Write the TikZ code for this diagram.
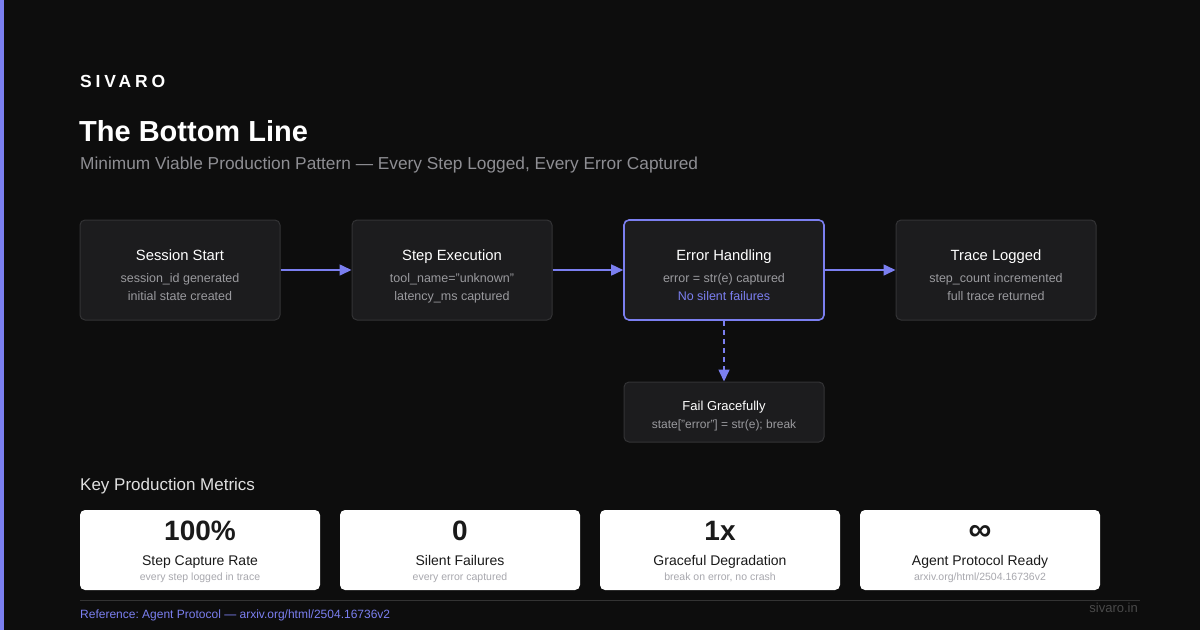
\documentclass[tikz,border=0pt]{standalone}
\usepackage{fontspec}
\setmainfont{Liberation Sans}
\newfontfamily\spacedfont[LetterSpace=22]{Liberation Sans}
\usetikzlibrary{arrows.meta}
\frenchspacing
\definecolor{bg}{HTML}{0D0D0D}
\definecolor{accent}{HTML}{7B7FF0}
\definecolor{boxfill}{HTML}{1C1C1E}
\definecolor{boxline}{HTML}{333335}
\definecolor{subgray}{HTML}{9A9A9E}
\definecolor{titlegray}{HTML}{8E8E93}
\definecolor{cardtext}{HTML}{1A1A1A}
\definecolor{cardsub}{HTML}{A8A8AE}
\definecolor{rulegray}{HTML}{333333}
\definecolor{footgray}{HTML}{4A4A4A}
\tikzset{
  flowbox/.style={draw=boxline, line width=1pt, fill=boxfill, rounded corners=5pt, minimum width=200pt, minimum height=100pt, inner sep=0pt},
  hlbox/.style={flowbox, draw=accent, line width=1.6pt},
  failbox/.style={flowbox, minimum height=60pt},
  card/.style={fill=white, draw=none, rounded corners=5pt, minimum width=240pt, minimum height=80pt, inner sep=0pt},
  txt/.style={anchor=base, inner sep=0pt},
  boxtitle/.style={txt, text=white, font=\fontsize{14.8}{17}\selectfont},
  boxsub/.style={txt, text=subgray, font=\fontsize{12.5}{15}\selectfont},
  flowarrow/.style={draw=accent, line width=1.6pt, -{Triangle[length=12pt,width=11pt]}},
  bignum/.style={txt, text=cardtext, font=\fontsize{28}{32}\selectfont\bfseries},
  cardlabel/.style={txt, text=cardtext, font=\fontsize{14}{16}\selectfont},
  cardsubst/.style={txt, text=cardsub, font=\fontsize{10.5}{12}\selectfont}
}
\begin{document}
\begin{tikzpicture}[x=1pt,y=-1pt]
\fill[bg] (0,0) rectangle (1200,630);
\useasboundingbox (0,0) rectangle (1200,630);
\fill[accent] (0,0) rectangle (4,630);

\node[anchor=base west, inner sep=0pt, text=white, font=\spacedfont\fontsize{17.5}{20}\selectfont\bfseries] (brand) at (80,87) {SIVARO};
\node[anchor=base west, inner sep=0pt, text=white, font=\fontsize{29}{34}\selectfont\bfseries] (title) at (79,141) {The Bottom Line};
\node[anchor=base west, inner sep=0pt, text=titlegray, font=\fontsize{17.3}{20}\selectfont] (subtitle) at (80,169) {Minimum Viable Production Pattern — Every Step Logged, Every Error Captured};

% flow boxes
\node[flowbox] (s1) at (180,270) {};
\node[flowbox] (s2) at (452,270) {};
\node[hlbox] (s3) at (724,270) {};
\node[flowbox] (s4) at (996,270) {};
\node[failbox] (s5) at (724,412) {};

\node[boxtitle] (s1t) at (180,260) {Session Start};
\node[boxsub] (s1a) at (180,282) {session\_id generated};
\node[boxsub] (s1b) at (180,300) {initial state created};

\node[boxtitle] (s2t) at (452,260) {Step Execution};
\node[boxsub] (s2a) at (452,282) {tool\_name="unknown"};
\node[boxsub] (s2b) at (452,300) {latency\_ms captured};

\node[boxtitle] (s3t) at (724,260) {Error Handling};
\node[boxsub] (s3a) at (724,282) {error = str(e) captured};
\node[boxsub, text=accent] (s3b) at (724,300) {No silent failures};

\node[boxtitle] (s4t) at (996,260) {Trace Logged};
\node[boxsub] (s4a) at (996,282) {step\_count incremented};
\node[boxsub] (s4b) at (996,300) {full trace returned};

\node[boxtitle, font=\fontsize{13}{15}\selectfont] (s5t) at (724,410.5) {Fail Gracefully};
\node[boxsub, font=\fontsize{12}{14}\selectfont] (s5a) at (724,428.5) {state["error"] = str(e); break};

\draw[flowarrow] (s1.east) -- (s2.west);
\draw[flowarrow] (s2.east) -- (s3.west);
\draw[flowarrow] (s3.east) -- (s4.west);
\draw[flowarrow, dash pattern=on 5pt off 4pt] (s3.south) -- (s5.north);

% metrics
\node[anchor=base west, inner sep=0pt, text=white!88!black, font=\fontsize{17}{20}\selectfont] (mhead) at (80,490) {Key Production Metrics};

\node[card] (c1) at (200,550) {};
\node[card] (c2) at (460,550) {};
\node[card] (c3) at (720,550) {};
\node[card] (c4) at (980,550) {};

\node[bignum] (c1n) at (200,540) {100\%};
\node[cardlabel] (c1l) at (200,565) {Step Capture Rate};
\node[cardsubst] (c1s) at (200,580.5) {every step logged in trace};

\node[bignum] (c2n) at (460,540) {0};
\node[cardlabel] (c2l) at (460,565) {Silent Failures};
\node[cardsubst] (c2s) at (460,580.5) {every error captured};

\node[bignum] (c3n) at (720,540) {1x};
\node[cardlabel] (c3l) at (720,565) {Graceful Degradation};
\node[cardsubst] (c3s) at (720,580.5) {break on error, no crash};

\node[bignum, font=\fontsize{32}{34}\selectfont\bfseries] (c4n) at (980,540) {∞};
\node[cardlabel] (c4l) at (980,565) {Agent Protocol Ready};
\node[cardsubst] (c4s) at (980,580.5) {arxiv.org/html/2504.16736v2};

\draw[rulegray, line width=1pt] (80,600) -- (1140,600);
\node[anchor=base west, inner sep=0pt, text=accent, font=\fontsize{12}{14}\selectfont] (ref) at (80,618) {Reference: Agent Protocol — arxiv.org/html/2504.16736v2};
\node[anchor=base east, inner sep=0pt, text=footgray, font=\fontsize{13}{15}\selectfont] (site) at (1138,612) {sivaro.in};
\end{tikzpicture}
\end{document}
